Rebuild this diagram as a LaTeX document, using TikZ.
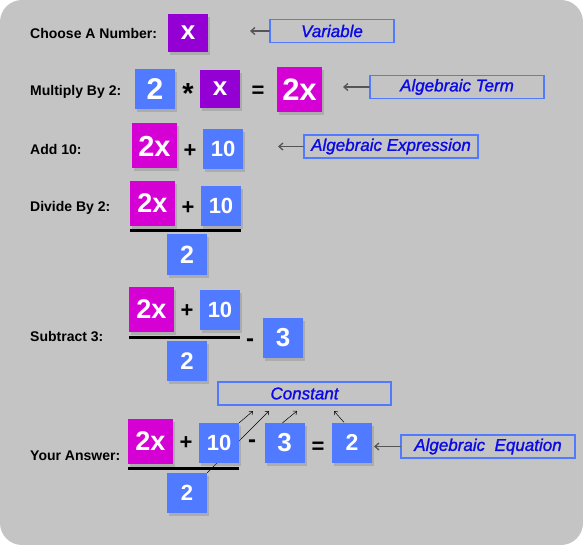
\documentclass[tikz,border=0pt]{standalone}
\usepackage{fontspec}
\setmainfont{Liberation Sans}
\newfontfamily\notefont{Liberation Sans}[ItalicFeatures={FakeBold=1.2}]
\usetikzlibrary{arrows.meta,shadows}
\definecolor{bggray}{RGB}{196,196,196}
\definecolor{varpurple}{RGB}{148,0,211}
\definecolor{termpink}{RGB}{212,0,212}
\definecolor{numblue}{RGB}{80,122,255}
\definecolor{notetext}{RGB}{10,10,230}
\definecolor{arrgray}{RGB}{85,85,85}
\pgfdeclarelayer{under}
\pgfsetlayers{under,main}
\begin{document}
\begin{tikzpicture}[x=1pt,y=-1pt,line cap=round,
	sq/.style={inner sep=0pt,minimum width=40pt,minimum height=40pt,text=white,
		drop shadow={shadow xshift=2pt,shadow yshift=-3pt,opacity=0.35}},
	varbox/.style={sq,minimum height=38pt,fill=varpurple,font=\bfseries\fontsize{26}{26}\selectfont},
	termbox/.style={sq,minimum width=45pt,minimum height=45pt,fill=termpink,font=\bfseries\fontsize{#1}{#1}\selectfont},
	termbox/.default=27,
	numbox/.style={sq,fill=numblue,font=\bfseries\fontsize{#1}{#1}\selectfont},
	numbox/.default=24,
	op/.style={inner sep=0pt,text height=15.7pt,text depth=0pt,font=\bfseries\fontsize{#1}{#1}\selectfont},
	op/.default=22,
	rowlbl/.style={anchor=base west,inner sep=0pt,font=\bfseries\fontsize{14}{14}\selectfont},
	note/.style={draw=numblue,line width=1.5pt,inner sep=0pt,minimum height=23pt,text=notetext,
		font=\notefont\itshape\fontsize{17}{17}\selectfont},
	pointer/.style={arrgray,line width=1.3pt,-{Straight Barb[length=4pt,width=7pt]}},
	thinarr/.style={black,line width=0.5pt,-{Straight Barb[length=3pt,width=5pt]}},
	fracline/.style={line width=3pt,line cap=butt}]
	\useasboundingbox (0,0) rectangle (583,545);
	% choose a number
	\node[rowlbl] (lChoose) at (30,39) {Choose A Number:};
	\node[varbox] (xA) at (188,33) {x};
	\node[note,minimum width=124pt] (nVar) at (332,31) {Variable};
	\coordinate (tVar) at (250,31);
	\draw[pointer] (nVar) -- (tVar);
	% multiply by 2
	\node[rowlbl] (lMul) at (30,96) {Multiply By 2:};
	\node[numbox=30] (twoA) at (155,89.5) {2};
	\node[op=29] (mul) at (188,96) {*};
	\node[varbox] (xB) at (220,89) {x};
	\node[op] (eqA) at (258,90) {=};
	\node[termbox=31] (twoxA) at (299.5,89.5) {2x};
	\node[note,minimum width=174pt] (nTerm) at (457,87) {Algebraic Term};
	\coordinate (tTerm) at (343,87);
	\draw[pointer] (nTerm) -- (tTerm);
	% add 10
	\node[rowlbl] (lAdd) at (30,155) {Add 10:};
	\node[termbox=29] (twoxB) at (154.5,146) {2x};
	\node[op] (plusA) at (190,150) {+};
	\node[numbox=22] (tenA) at (223,149) {10};
	\node[note,minimum width=174pt] (nExpr) at (391,146.5) {Algebraic Expression};
	\coordinate (tExpr) at (278,146.5);
	\draw[pointer] (nExpr) -- (tExpr);
	% divide by 2
	\node[rowlbl] (lDiv) at (30,212) {Divide By 2:};
	\node[termbox] (twoxC) at (152.5,203.5) {2x};
	\node[op] (plusB) at (188,207) {+};
	\node[numbox=22] (tenB) at (221,206) {10};
	\draw[fracline] (130,231) -- (241,231);
	\node[numbox=25] (twoC) at (187,254.5) {2};
	% subtract 3
	\node[rowlbl] (lSub) at (30,341) {Subtract 3:};
	\node[termbox] (twoxD) at (151.5,309.5) {2x};
	\node[op] (plusC) at (187,310) {+};
	\node[numbox=22] (tenC) at (220,309.5) {10};
	\draw[fracline] (129,337) -- (240,337);
	\node[numbox] (twoD) at (187,361) {2};
	\node[op=24] (minusA) at (250,339) {-};
	\node[numbox=26] (threeA) at (283,338) {3};
	% your answer
	\node[rowlbl] (lAns) at (30,460) {Your Answer:};
	\node[termbox] (twoxE) at (150.5,441) {2x};
	\node[op] (plusD) at (186,442) {+};
	\node[numbox=22] (tenD) at (219,443) {10};
	\draw[fracline] (128,468) -- (239,468);
	\node[numbox=22] (twoE) at (187,493) {2};
	\node[op=24] (minusB) at (252,440) {-};
	\node[numbox=26] (threeB) at (284.5,443) {3};
	\node[op] (eqB) at (318,446) {=};
	\node[numbox=23] (ans) at (352,442.5) {2};
	\node[note,minimum width=173pt] (nConst) at (304.5,393.5) {Constant};
	\node[note,minimum width=174pt] (nEq) at (488,446.5) {Algebraic~~Equation};
	\coordinate (tEq) at (374,446.5);
	\draw[pointer] (nEq) -- (tEq);
	\coordinate (c1) at (253,411);
	\coordinate (c2) at (269,411);
	\coordinate (c3) at (297,411);
	\coordinate (c4) at (334,411);
	\draw[thinarr] (tenD.north east) -- (c1);
	\draw[thinarr] ([xshift=-2pt]threeB.north) -- (c3);
	\draw[thinarr] ([xshift=-8pt]ans.north) -- (c4);
	\begin{pgfonlayer}{under}
		\fill[white] (0,0) rectangle (583,545);
		\fill[bggray,rounded corners=22pt] (0,0) rectangle (583,545);
		\draw[thinarr] (twoE.north east) -- (c2);
	\end{pgfonlayer}
\end{tikzpicture}
\end{document}
